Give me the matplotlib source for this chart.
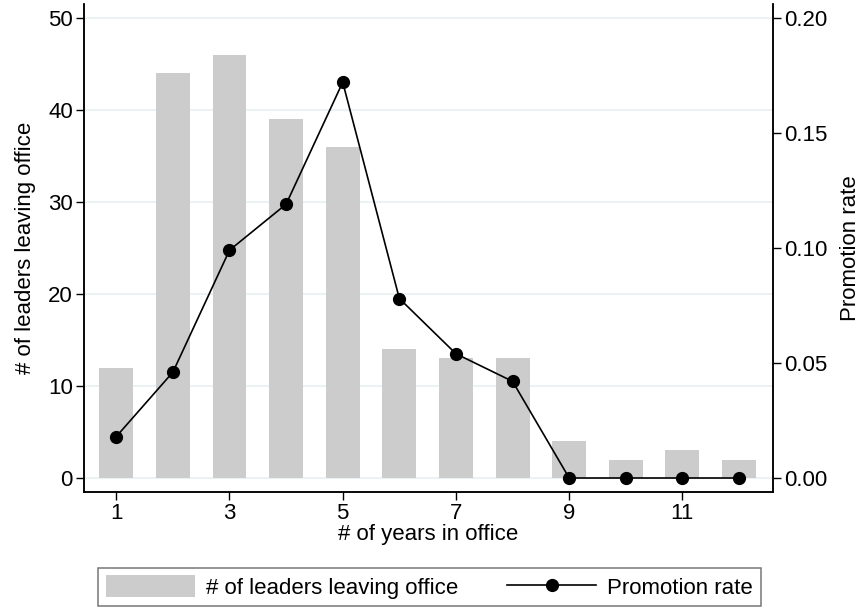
import matplotlib
matplotlib.use("Agg")
import matplotlib.pyplot as plt
from matplotlib.patches import Patch
from matplotlib.lines import Line2D

plt.rcParams['font.family'] = ['Liberation Sans', 'DejaVu Sans']

#####################
# Data
#####################
years = [1, 2, 3, 4, 5, 6, 7, 8, 9, 10, 11, 12]
leaders_leaving = [12, 44, 46, 39, 36, 14, 13, 13, 4, 2, 3, 2]
promotion_rate = [0.018, 0.046, 0.099, 0.119, 0.172, 0.078, 0.054, 0.042, 0.0, 0.0, 0.0, 0.0]

x_ticks = [1, 3, 5, 7, 9, 11]
left_ticks = [0, 10, 20, 30, 40, 50]
right_ticks = [0.0, 0.05, 0.10, 0.15, 0.20]

bar_color = '#cccccc'
grid_color = '#e8f0f1'
fs = 16

#####################
# Plot
#####################
fig = plt.figure(figsize=(8.61, 6.13), dpi=100)
ax = fig.add_axes([84 / 861, 1 - 492 / 613, (773 - 84) / 861, (492 - 4) / 613])
ax2 = ax.twinx()

ax.bar(years, leaders_leaving, width=0.6, color=bar_color, zorder=2)
ax2.plot(years, promotion_rate, color='black', lw=1.2, marker='o', markersize=8.5, zorder=3)

# same vertical mapping on both sides: 0 -> 0.00, 50 -> 0.20
lo, hi = -1.52, 51.5
ax.set_ylim(lo, hi)
ax2.set_ylim(lo * 0.004, hi * 0.004)
ax.set_xlim(0.43, 12.6)

ax.set_yticks(left_ticks)
ax.set_yticklabels([str(v) for v in left_ticks])
ax2.set_yticks(right_ticks)
ax2.set_yticklabels(['%.2f' % v for v in right_ticks])
ax.set_xticks(x_ticks)

for v in left_ticks:
    ax.axhline(v, color=grid_color, lw=1.2, zorder=1)

for a in (ax, ax2):
    a.spines['top'].set_visible(False)
    for s in ('left', 'right', 'bottom'):
        a.spines[s].set_linewidth(1.1)
        a.spines[s].set_color('black')
    a.tick_params(labelsize=fs, length=6, width=1.0, direction='out', pad=2)

ax.set_xlabel('# of years in office', fontsize=fs, labelpad=0)
ax.set_ylabel('# of leaders leaving office', fontsize=fs, labelpad=9)
ax2.set_ylabel('Promotion rate', fontsize=fs, labelpad=9)

handles = [
    Patch(facecolor=bar_color, edgecolor='none'),
    Line2D([], [], color='black', lw=1.2, marker='o', markersize=8.5),
]
leg = fig.legend(handles, ['# of leaders leaving office', 'Promotion rate'],
                 loc='center', bbox_to_anchor=((93 + 766) / 2 / 861, 1 - 587 / 613),
                 ncol=2, fontsize=fs, frameon=True, fancybox=False,
                 handlelength=4.0, handleheight=1.1, columnspacing=2.2,
                 borderpad=0.35, handletextpad=0.5)
leg.get_frame().set_edgecolor('#555555')
leg.get_frame().set_linewidth(1.1)

fig.savefig('out.png', dpi=100)
